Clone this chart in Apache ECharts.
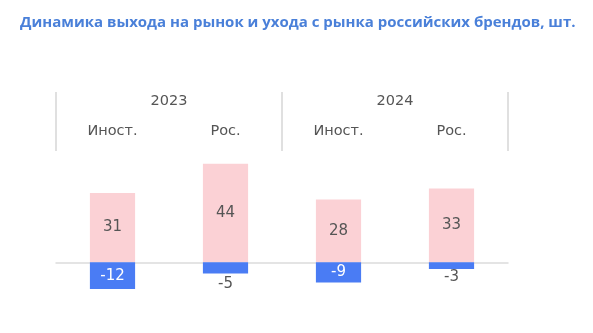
<!DOCTYPE html>
<html>
<head>
<meta charset="utf-8">
<script src="https://cdn.jsdelivr.net/npm/echarts@6/dist/echarts.min.js"></script>
<style>
  html, body { margin: 0; padding: 0; background: #fff; }
  #chart { width: 593px; height: 333px; }
</style>
</head>
<body>
<div id="chart"></div>
<script>
// Brands entering / leaving the market, by year and origin
const years = ['2023', '2024'];
const groups = ['Иност.', 'Рос.', 'Иност.', 'Рос.'];
const entered = [31, 44, 28, 33];
const left = [-12, -5, -9, -3];

const textColor = '#555';
const font = 'DejaVu Sans';

const chart = echarts.init(document.getElementById('chart'));

// exit labels sit inside the bar when it is tall enough, below it otherwise
const leftData = left.map(v => {
  const inside = Math.abs(v) >= 8;
  return {
    value: v,
    label: inside
      ? { position: 'inside', color: '#fff' }
      : { position: 'bottom', color: textColor, distance: Math.abs(v) >= 5 ? 3 : 1 }
  };
});

chart.setOption({
  animation: false,
  title: {
    text: 'Динамика выхода на рынок и ухода с рынка российских брендов, шт.',
    left: 15,
    top: 10,
    textStyle: {
      fontFamily: 'Open Sans',
      fontWeight: 'bold',
      fontSize: 15,
      color: '#4a80d9'
    }
  },
  grid: [
    { left: 56, right: 85, top: 128, bottom: 26 },
    { left: 56, right: 85, top: 92, height: 59 }
  ],
  xAxis: [
    {
      gridIndex: 0,
      type: 'category',
      data: groups,
      axisLine: { lineStyle: { color: '#dcdcdc', width: 1.5 } },
      axisTick: { show: false },
      axisLabel: { show: false }
    },
    {
      gridIndex: 1,
      type: 'category',
      data: years,
      position: 'top',
      axisLine: { show: false },
      axisTick: { show: false },
      axisLabel: {
        inside: true,
        margin: 2,
        fontFamily: font,
        fontSize: 14.5,
        color: textColor
      },
      splitLine: {
        show: true,
        showMinLine: true,
        showMaxLine: true,
        lineStyle: { color: '#e0e0e0', width: 2 }
      }
    },
    {
      gridIndex: 1,
      type: 'category',
      data: groups,
      position: 'bottom',
      axisLine: { show: false },
      axisTick: { show: false },
      axisLabel: {
        inside: true,
        margin: 12,
        fontFamily: font,
        fontSize: 14.5,
        color: textColor
      }
    }
  ],
  yAxis: [
    { gridIndex: 0, type: 'value', min: -20, max: 60, show: false },
    { gridIndex: 1, type: 'value', show: false }
  ],
  series: [
    {
      name: 'Вход',
      type: 'bar',
      stack: 'total',
      xAxisIndex: 0,
      yAxisIndex: 0,
      barWidth: '40%',
      data: entered,
      itemStyle: { color: '#fbd1d5' },
      label: {
        show: true,
        position: 'inside',
        fontFamily: font,
        fontSize: 15,
        color: textColor
      }
    },
    {
      name: 'Уход',
      type: 'bar',
      stack: 'total',
      xAxisIndex: 0,
      yAxisIndex: 0,
      barWidth: '40%',
      data: leftData,
      itemStyle: { color: '#4a7cf4' },
      label: {
        show: true,
        fontFamily: font,
        fontSize: 15
      }
    }
  ]
});
</script>
</body>
</html>
